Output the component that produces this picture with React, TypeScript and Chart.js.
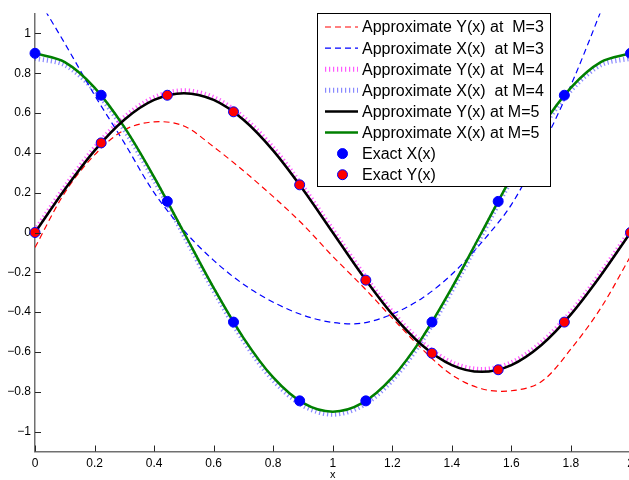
import React, { useEffect, useRef } from "react";
import { Chart, registerables } from "chart.js";

Chart.register(...registerables);

// sample abscissae for the approximate curves
const xGrid = [0, 0.1, 0.2, 0.3, 0.4, 0.5, 0.6, 0.7, 0.8, 0.9, 1.0, 1.1, 1.2, 1.3, 1.4, 1.5, 1.6, 1.7, 1.8, 1.9, 2.0];

// M = 3
const yApproxM3 = [-0.075, 0.2, 0.39, 0.515, 0.556, 0.535, 0.43, 0.31, 0.18, 0.04, -0.12, -0.27, -0.43, -0.585, -0.715, -0.785, -0.795, -0.75, -0.585, -0.38, -0.12];
const xApproxM3 = [1.2, 0.95, 0.69, 0.45, 0.2, 0.01, -0.14, -0.26, -0.35, -0.415, -0.452, -0.455, -0.41, -0.33, -0.21, -0.05, 0.14, 0.42, 0.74, 1.11, 1.5];

// M = 4
const yApproxM4 = [0.01, 0.228, 0.424, 0.578, 0.678, 0.712, 0.678, 0.578, 0.424, 0.228, 0.012, -0.204, -0.4, -0.554, -0.654, -0.688, -0.654, -0.554, -0.4, -0.204, 0.01];
const xApproxM4 = [0.875, 0.842, 0.715, 0.516, 0.265, -0.013, -0.291, -0.542, -0.741, -0.869, -0.913, -0.869, -0.741, -0.542, -0.291, -0.013, 0.265, 0.516, 0.715, 0.842, 0.875];

// M = 5
const yApproxM5 = [0, 0.2163, 0.4114, 0.5663, 0.6657, 0.7, 0.6657, 0.5663, 0.4114, 0.2163, 0, -0.2163, -0.4114, -0.5663, -0.6657, -0.7, -0.6657, -0.5663, -0.4114, -0.2163, 0];
const xApproxM5 = [0.9, 0.856, 0.7281, 0.529, 0.2781, 0, -0.2781, -0.529, -0.7281, -0.856, -0.9, -0.856, -0.7281, -0.529, -0.2781, 0, 0.2781, 0.529, 0.7281, 0.856, 0.9];

// exact solution nodes
const exactNodes = [0, 0.2222, 0.4444, 0.6667, 0.8889, 1.1111, 1.3333, 1.5556, 1.7778, 2.0];
const exactX = [0.9, 0.6894, 0.1563, -0.45, -0.8457, -0.8457, -0.45, 0.1563, 0.6894, 0.9];
const exactY = [0, 0.45, 0.6894, 0.6062, 0.2394, -0.2394, -0.6062, -0.6894, -0.45, 0];

const xTicks = [0, 0.2, 0.4, 0.6, 0.8, 1, 1.2, 1.4, 1.6, 1.8, 2];
const yTicks = [-1, -0.8, -0.6, -0.4, -0.2, 0, 0.2, 0.4, 0.6, 0.8, 1];

const labels = [
  "Approximate Y(x) at  M=3",
  "Approximate X(x)  at M=3",
  "Approximate Y(x) at  M=4",
  "Approximate X(x)  at M=4",
  "Approximate Y(x) at M=5",
  "Approximate X(x) at M=5",
  "Exact X(x)",
  "Exact Y(x)",
];

const FONT = "'Liberation Sans', Arial, Helvetica, sans-serif";

const pts = (xs: number[], ys: number[]) => xs.map((x, i) => ({ x, y: ys[i] }));
const fmt = (v: number) => String(Math.round(v * 10) / 10).replace("-", "\u2212");

const tickPlugin = {
  id: "inwardTicks",
  afterDatasetsDraw(chart: any) {
    const { ctx, chartArea, scales } = chart;
    ctx.save();
    ctx.strokeStyle = "#262626";
    ctx.lineWidth = 1;
    ctx.setLineDash([]);
    ctx.beginPath();
    yTicks.forEach((v) => {
      const py = Math.round(scales.y.getPixelForValue(v)) + 0.5;
      ctx.moveTo(chartArea.left, py);
      ctx.lineTo(chartArea.left + 6, py);
    });
    xTicks.forEach((v) => {
      const px = Math.round(scales.x.getPixelForValue(v)) + 0.5;
      ctx.moveTo(px, chartArea.bottom);
      ctx.lineTo(px, chartArea.bottom - 6);
    });
    ctx.stroke();
    ctx.restore();
  },
};

const legendPlugin = {
  id: "boxLegend",
  afterDraw(chart: any) {
    const { ctx } = chart;
    const left = 317.5, top = 13.5, w = 233, h = 173;
    ctx.save();
    ctx.fillStyle = "#ffffff";
    ctx.fillRect(left, top, w, h);
    ctx.strokeStyle = "#000000";
    ctx.lineWidth = 1;
    ctx.setLineDash([]);
    ctx.strokeRect(left, top, w, h);
    ctx.font = `16px ${FONT}`;
    ctx.textBaseline = "middle";
    ctx.textAlign = "left";
    const dsList = chart.data.datasets;
    dsList.forEach((ds: any, i: number) => {
      const cy = 27 + i * 21.1;
      if (ds.showLine === false) {
        ctx.setLineDash([]);
        ctx.beginPath();
        ctx.arc(342.5, cy, ds.pointRadius, 0, Math.PI * 2);
        ctx.fillStyle = ds.pointBackgroundColor;
        ctx.fill();
        ctx.lineWidth = ds.pointBorderWidth;
        ctx.strokeStyle = ds.pointBorderColor;
        ctx.stroke();
      } else {
        ctx.setLineDash(ds.borderDash || []);
        ctx.lineWidth = ds.borderWidth;
        ctx.strokeStyle = ds.borderColor;
        ctx.beginPath();
        ctx.moveTo(325, cy);
        ctx.lineTo(358, cy);
        ctx.stroke();
      }
      ctx.setLineDash([]);
      ctx.fillStyle = "#000000";
      ctx.fillText(ds.label, 362, cy + 1);
    });
    ctx.restore();
  },
};

export default function App() {
  const ref = useRef<HTMLCanvasElement | null>(null);

  useEffect(() => {
    if (!ref.current) return;
    const lineBase = { showLine: true, pointRadius: 0, fill: false, tension: 0.33 };
    const chart = new Chart(ref.current, {
      type: "line",
      data: {
        datasets: [
          { ...lineBase, label: labels[0], data: pts(xGrid, yApproxM3), borderColor: "#ff0000", borderWidth: 1.2, borderDash: [6, 4], order: 6, clip: 0 },
          { ...lineBase, label: labels[1], data: pts(xGrid, xApproxM3), borderColor: "#0000ff", borderWidth: 1.2, borderDash: [6, 4], order: 6, clip: 0 },
          { ...lineBase, label: labels[2], data: pts(xGrid, yApproxM4), borderColor: "rgba(255,0,255,0.65)", borderWidth: 5, borderDash: [1.2, 2.8], order: 5, clip: 0 },
          { ...lineBase, label: labels[3], data: pts(xGrid, xApproxM4), borderColor: "rgba(40,40,255,0.55)", borderWidth: 5, borderDash: [1.2, 2.8], order: 5, clip: 0 },
          { ...lineBase, label: labels[4], data: pts(xGrid, yApproxM5), borderColor: "#000000", borderWidth: 2.5, order: 3, clip: 0 },
          { ...lineBase, label: labels[5], data: pts(xGrid, xApproxM5), borderColor: "#008000", borderWidth: 2.5, order: 3, clip: 0 },
          { label: labels[6], data: pts(exactNodes, exactX), showLine: false, pointRadius: 5, pointBorderWidth: 1, pointBackgroundColor: "#0000ff", pointBorderColor: "#0000ff", borderColor: "#0000ff", backgroundColor: "#0000ff", order: 0, clip: false },
          { label: labels[7], data: pts(exactNodes, exactY), showLine: false, pointRadius: 5, pointBorderWidth: 1, pointBackgroundColor: "#ff0000", pointBorderColor: "#0000ff", borderColor: "#0000ff", backgroundColor: "#ff0000", order: 0, clip: false },
        ],
      },
      options: {
        animation: false,
        responsive: false,
        maintainAspectRatio: false,
        layout: { padding: { left: 0, top: 13.5, right: 9.5, bottom: 0 } },
        plugins: { legend: { display: false }, tooltip: { enabled: false } },
        elements: { line: { borderCapStyle: "butt" } },
        scales: {
          x: {
            type: "linear",
            min: 0,
            max: 2,
            afterBuildTicks: (s: any) => { s.ticks = xTicks.map((v) => ({ value: v })); },
            afterFit: (s: any) => { s.height = 28.5; },
            grid: { display: false, drawTicks: false },
            border: { display: true, color: "#707070", width: 1.5 },
            ticks: { autoSkip: false, maxRotation: 0, padding: 5, color: "#000", font: { family: FONT, size: 12 }, callback: (v: any) => fmt(Number(v)) },
            title: { display: true, text: "x", color: "#000", font: { family: FONT, size: 11, lineHeight: 1 }, padding: { top: 0, bottom: 0 } },
          },
          y: {
            type: "linear",
            min: -1.1,
            max: 1.1,
            afterBuildTicks: (s: any) => { s.ticks = yTicks.map((v) => ({ value: v })); },
            afterFit: (s: any) => { s.width = 35; },
            grid: { display: false, drawTicks: false },
            border: { display: true, color: "#707070", width: 1.5 },
            ticks: { padding: 4, color: "#000", font: { family: FONT, size: 12 }, callback: (v: any) => fmt(Number(v)) },
          },
        },
      },
      plugins: [tickPlugin, legendPlugin],
    });
    return () => chart.destroy();
  }, []);

  return (
    <div style={{ position: "fixed", left: 0, top: 0, width: 640, height: 480, background: "#fff" }}>
      <canvas ref={ref} width={640} height={480} style={{ width: 640, height: 480, display: "block" }} />
    </div>
  );
}
